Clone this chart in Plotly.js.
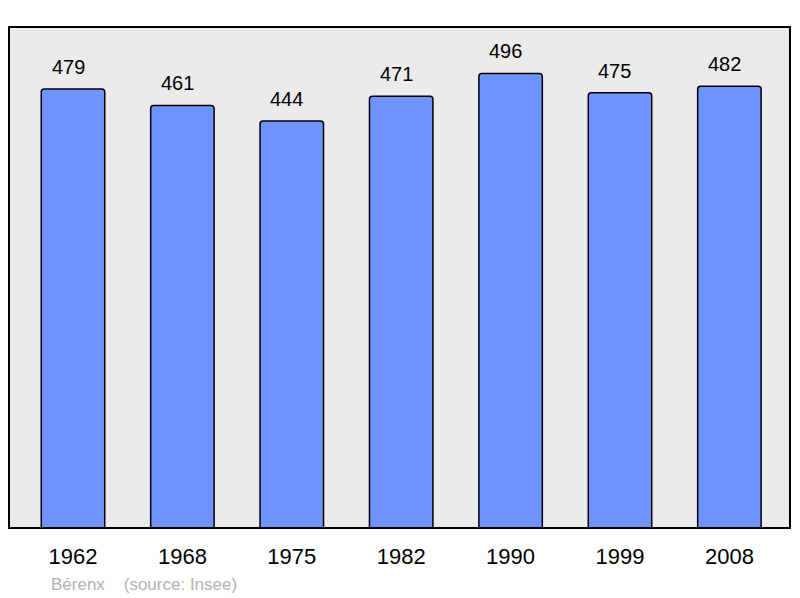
<!DOCTYPE html>
<html>
<head>
<meta charset="utf-8">
<script src="https://cdn.plot.ly/plotly-3.0.1.min.js"></script>
<style>html,body{margin:0;padding:0;background:#fff;}#chart{width:800px;height:598px;}</style>
</head>
<body>
<div id="chart"></div>
<script>
const years = ["1962", "1968", "1975", "1982", "1990", "1999", "2008"];
const population = [479, 461, 444, 471, 496, 475, 482];
const footerText = "Bérenx    (source: Insee)";

const trace = {
  type: "bar",
  x: years,
  y: population,
  marker: {color: "#7094ff", line: {color: "#000000", width: 1.5}, cornerradius: 3},
  width: 0.58,
  hoverinfo: "x+y"
};

const labelAnnotations = years.map((yr, i) => ({
  x: i, y: population[i], xref: "x", yref: "y",
  text: String(population[i]), showarrow: false,
  yanchor: "middle", yshift: 22, xshift: -5,
  font: {family: "Liberation Sans, Arial, sans-serif", size: 20, color: "#000"}
}));

const layout = {
  width: 800, height: 598,
  margin: {l: 9, r: 10, t: 27, b: 70},
  paper_bgcolor: "#ffffff",
  plot_bgcolor: "#ebebeb",
  showlegend: false,
  bargap: 0.42,
  xaxis: {
    type: "category",
    range: [-0.585, 6.554],
    showgrid: false, zeroline: false, showline: false,
    ticks: "", ticklabelstandoff: 13,
    tickfont: {family: "Liberation Sans, Arial, sans-serif", size: 22, color: "#000"},
    fixedrange: true
  },
  yaxis: {
    range: [0, 546.6],
    showgrid: false, zeroline: false, showline: false,
    showticklabels: false, ticks: "", fixedrange: true
  },
  shapes: [{
    type: "rect", xref: "paper", yref: "paper", x0: 0, x1: 1, y0: 0, y1: 1,
    line: {color: "#000", width: 2}, fillcolor: "rgba(0,0,0,0)", layer: "above"
  }],
  annotations: labelAnnotations.concat([{
    xref: "paper", yref: "paper", x: 0.051, y: -0.112,
    xanchor: "left", yanchor: "middle", showarrow: false,
    text: footerText.replace(/ {2,}/g, m => "&nbsp;".repeat(m.length)),
    font: {family: "Liberation Sans, Arial, sans-serif", size: 17, color: "#b3b3b3"}
  }])
};

Plotly.newPlot("chart", [trace], layout, {displayModeBar: false, staticPlot: true});
</script>
</body>
</html>
